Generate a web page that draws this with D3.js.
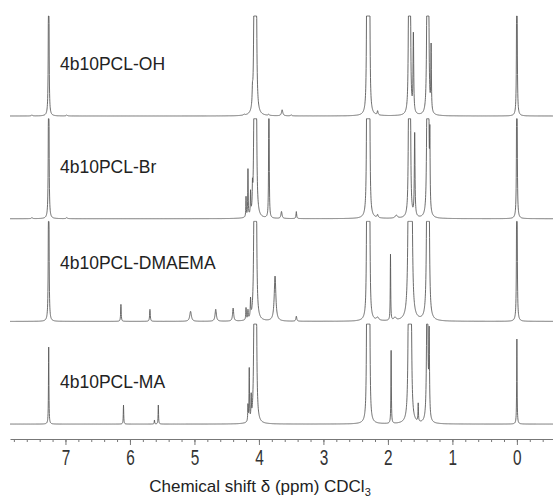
<!DOCTYPE html>
<html><head><meta charset="utf-8">
<script src="https://cdn.jsdelivr.net/npm/d3@7"></script>
<style>body{margin:0;background:#fff}svg{display:block}</style>
</head><body>
<svg id="chart" width="553" height="497"></svg>
<script>
// ---------------- data ----------------
const spectrumNames = ["4b10PCL-OH", "4b10PCL-Br", "4b10PCL-DMAEMA", "4b10PCL-MA"];
// peaks: [chemical shift ppm, intensity (100 = full panel height), half-width ppm]
const peaksOH = [
  [7.26, 300, 0.004], [7.52, 1, 0.01], [6.98, 1, 0.01],
  [4.23, 1, 0.01], [4.10, 14, 0.006], [4.07, 300, 0.007], [4.045, 300, 0.007],
  [3.85, 1, 0.01], [3.64, 6, 0.012], [3.50, 1, 0.01],
  [2.325, 200, 0.006], [2.305, 300, 0.006], [2.285, 200, 0.006], [2.16, 4, 0.008],
  [1.675, 250, 0.006], [1.655, 250, 0.006], [1.605, 80, 0.006],
  [1.39, 250, 0.007], [1.37, 200, 0.006], [1.33, 65, 0.005],
  [0.0, 300, 0.004]
];
const peaksBr = [
  [7.26, 300, 0.004], [7.52, 1, 0.01], [6.98, 1, 0.01],
  [4.20, 20, 0.004], [4.17, 47, 0.004], [4.13, 22, 0.004], [4.10, 20, 0.004],
  [4.07, 300, 0.007], [4.045, 300, 0.007],
  [3.845, 300, 0.003], [3.65, 7, 0.01], [3.42, 7, 0.006],
  [2.325, 200, 0.006], [2.305, 300, 0.006], [2.285, 200, 0.006], [2.16, 3, 0.01], [1.87, 3, 0.02],
  [1.675, 250, 0.006], [1.655, 250, 0.006], [1.585, 85, 0.006],
  [1.39, 250, 0.007], [1.37, 200, 0.006], [1.35, 70, 0.005],
  [0.0, 300, 0.004]
];
const peaksDMAEMA = [
  [7.26, 300, 0.004],
  [6.14, 17, 0.005], [5.69, 12, 0.006], [5.06, 10, 0.015], [4.67, 12, 0.012], [4.40, 13, 0.01],
  [4.20, 12, 0.005], [4.17, 9, 0.005], [4.13, 18, 0.005],
  [4.07, 300, 0.007], [4.045, 300, 0.007],
  [3.75, 45, 0.015], [3.42, 5, 0.008],
  [2.325, 200, 0.006], [2.305, 300, 0.006], [2.285, 200, 0.006], [2.16, 3, 0.02],
  [1.96, 66, 0.004], [1.89, 3, 0.02],
  [1.675, 300, 0.01], [1.635, 300, 0.01],
  [1.39, 300, 0.008], [1.365, 200, 0.008],
  [0.0, 300, 0.004]
];
const peaksMA = [
  [7.26, 77, 0.004],
  [6.10, 19, 0.004], [5.62, 4, 0.004], [5.56, 19, 0.004],
  [4.17, 16, 0.004], [4.15, 52, 0.004], [4.12, 22, 0.004],
  [4.07, 300, 0.007], [4.045, 300, 0.007],
  [2.325, 200, 0.006], [2.305, 300, 0.006], [2.285, 200, 0.006],
  [1.95, 73, 0.004],
  [1.675, 300, 0.008], [1.645, 300, 0.008], [1.53, 18, 0.004],
  [1.39, 300, 0.007], [1.36, 82, 0.006],
  [0.0, 85, 0.004]
];
const allPeaks = [peaksOH, peaksBr, peaksDMAEMA, peaksMA];
const majorTicks = [7, 6, 5, 4, 3, 2, 1, 0];
const minorTicks = d3.range(78, -5, -2).map(v => v / 10);
const axisTitle = "Chemical shift δ (ppm) CDCl";
const axisTitleSub = "3";

// ---------------- layout ----------------
const svg = d3.select("#chart");
const x = d3.scaleLinear().domain([7.86, -0.56]).range([10, 553]);
const grid = d3.range(7.86, -0.561, -0.002);
const lineColor = "#5a5a5a";

function intensity(peaks, p) {
  let s = 0;
  for (const [c, h, w] of peaks) {
    const d = p - c;
    s += h * w * w / (d * d + w * w);
  }
  return s;
}

allPeaks.forEach((peaks, i) => {
  const base = 116 + i * 102.7;
  const y = d3.scaleLinear().domain([0, 100]).range([base, base - 100]).clamp(true);
  const pts = grid.map(p => [p, intensity(peaks, p)]);
  svg.append("path")
    .datum(pts)
    .attr("fill", "none")
    .attr("stroke", lineColor)
    .attr("stroke-width", 0.9)
    .attr("stroke-linejoin", "round")
    .attr("d", d3.line().x(d => x(d[0])).y(d => y(d[1])));
  svg.append("text")
    .attr("x", 60)
    .attr("y", [69.5, 172.5, 268.5, 387.5][i])
    .attr("font-family", "Liberation Sans, Arial, sans-serif")
    .attr("font-size", 17.5)
    .attr("fill", "#222")
    .text(spectrumNames[i]);
});

// axis
const axisY = 439;
const gMinor = svg.append("g").attr("transform", `translate(0,${axisY})`)
  .call(d3.axisBottom(x).tickValues(minorTicks).tickSize(3).tickSizeOuter(0).tickFormat(""));
const gMajor = svg.append("g").attr("transform", `translate(0,${axisY})`)
  .call(d3.axisBottom(x).tickValues(majorTicks).tickSize(6).tickSizeOuter(0).tickFormat(d3.format("d")));
[gMinor, gMajor].forEach(g => {
  g.selectAll("path,line").attr("stroke", "#777").attr("stroke-width", 1);
});
gMinor.select(".domain").remove();
gMajor.selectAll("text")
  .attr("y", 26).attr("dy", null)
  .attr("transform", "scale(0.7,1)")
  .attr("font-family", "Liberation Sans, Arial, sans-serif")
  .attr("font-size", 22)
  .attr("fill", "#333");

const title = svg.append("text")
  .attr("x", 260).attr("y", 491.5)
  .attr("text-anchor", "middle")
  .attr("font-family", "Liberation Sans, Arial, sans-serif")
  .attr("font-size", 17)
  .attr("fill", "#222");
title.append("tspan").text(axisTitle);
title.append("tspan").attr("font-size", 11).attr("dy", 4).text(axisTitleSub);
</script>
</body></html>
